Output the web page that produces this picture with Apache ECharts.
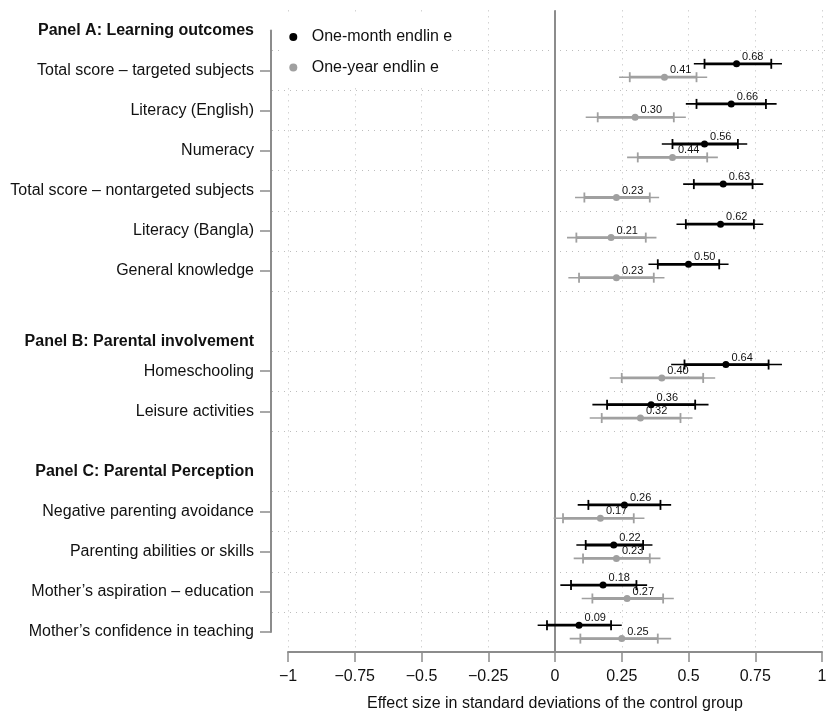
<!DOCTYPE html>
<html><head><meta charset="utf-8">
<script src="https://cdn.jsdelivr.net/npm/echarts@6/dist/echarts.min.js"></script>
<style>html,body{margin:0;padding:0;background:#fff}#chart{width:829px;height:712px}</style>
</head><body><div id="chart"></div>
<script>
// ---------------- data ----------------
const panelTitles = ['Panel A: Learning outcomes', 'Panel B: Parental involvement', 'Panel C: Parental Perception'];
const categories = [
  'Total score – targeted subjects', 'Literacy (English)', 'Numeracy',
  'Total score – nontargeted subjects', 'Literacy (Bangla)', 'General knowledge',
  'Homeschooling', 'Leisure activities',
  'Negative parenting avoidance', 'Parenting abilities or skills',
  'Mother’s aspiration – education', 'Mother’s confidence in teaching'
];
const categoryPanel = [0, 0, 0, 0, 0, 0, 1, 1, 2, 2, 2, 2];
const seriesNames = ['One-month endlin e', 'One-year endlin e'];

const monthEst  = [0.68, 0.66, 0.56, 0.63, 0.62, 0.50, 0.64, 0.36, 0.26, 0.22, 0.18, 0.09];
const monthLo95 = [0.52, 0.49, 0.40, 0.48, 0.455, 0.35, 0.435, 0.14, 0.085, 0.08, 0.02, -0.065];
const monthHi95 = [0.85, 0.83, 0.72, 0.78, 0.78, 0.65, 0.85, 0.575, 0.435, 0.365, 0.345, 0.25];
const monthLo90 = [0.56, 0.53, 0.44, 0.52, 0.49, 0.385, 0.485, 0.195, 0.125, 0.115, 0.06, -0.03];
const monthHi90 = [0.81, 0.79, 0.685, 0.74, 0.745, 0.615, 0.80, 0.525, 0.395, 0.33, 0.305, 0.21];

const yearEst  = [0.41, 0.30, 0.44, 0.23, 0.21, 0.23, 0.40, 0.32, 0.17, 0.23, 0.27, 0.25];
const yearLo95 = [0.24, 0.115, 0.27, 0.075, 0.045, 0.05, 0.205, 0.13, -0.005, 0.07, 0.10, 0.055];
const yearHi95 = [0.57, 0.49, 0.61, 0.39, 0.38, 0.41, 0.60, 0.515, 0.335, 0.395, 0.445, 0.435];
const yearLo90 = [0.28, 0.16, 0.31, 0.11, 0.08, 0.09, 0.25, 0.175, 0.03, 0.105, 0.14, 0.095];
const yearHi90 = [0.53, 0.445, 0.57, 0.355, 0.34, 0.37, 0.555, 0.47, 0.295, 0.355, 0.405, 0.385];

const xTicks = [-1, -0.75, -0.5, -0.25, 0, 0.25, 0.5, 0.75, 1];
const xTickLabels = ['−1', '−0.75', '−0.5', '−0.25', '0', '0.25', '0.5', '0.75', '1'];
const xTitle = 'Effect size in standard deviations of the control group';

// ---------------- layout ----------------
const panelFirstPos = [1, 8.5, 12];
const panelHeadPos = [0, 7.75, 11];
const rowOffset = 0.167;
const itemPos = [];
{
  const cnt = [0, 0, 0];
  categoryPanel.forEach((p, i) => { itemPos.push(panelFirstPos[p] + cnt[p]); cnt[p]++; });
}
const labelMap = {};
categories.forEach((c, i) => labelMap[itemPos[i].toFixed(2)] = c);
panelTitles.forEach((t, i) => labelMap[panelHeadPos[i].toFixed(2)] = '{b|' + t + '}');
const allLabelPos = itemPos.concat(panelHeadPos).sort((a, b) => a - b);
const gridSet = new Set();
itemPos.forEach(p => { gridSet.add(+(p - 0.5).toFixed(2)); gridSet.add(+(p + 0.5).toFixed(2)); });
const yMin = -0.5, yMax = 15.5;
const hLines = [...gridSet].filter(v => v < yMax).sort((a, b) => a - b);

const FONT = '"Liberation Sans", Arial, Helvetica, sans-serif';
const BLACK = '#000000', GRAY = '#a0a0a0', AXIS = '#8c8c8c', TXT = '#111111';
const PX_LEFT = 288, PX_RIGHT = 822, PLOT_LEFT = 272, PLOT_RIGHT = 829;
const unit = (PX_RIGHT - PX_LEFT) / 2;
const XMIN = -1 - (PX_LEFT - PLOT_LEFT) / unit;
const XMAX = 1 + (PLOT_RIGHT - PX_RIGHT) / unit;
const TOP = 10.35, ROWH = 40.1;

function ciSeries(name, color, lo95, hi95, lo90, hi90, off, extra) {
  return Object.assign({
    type: 'custom', name: name + ' CI', xAxisIndex: 0, yAxisIndex: 0, z: 3, silent: true,
    data: lo95.map((v, i) => [itemPos[i] + off, lo95[i], hi95[i], lo90[i], hi90[i]]),
    encode: { x: [1, 2, 3, 4], y: 0 },
    renderItem: function (params, api) {
      const y = api.value(0);
      const a = api.coord([api.value(1), y]), b = api.coord([api.value(2), y]);
      const c = api.coord([api.value(3), y]), d = api.coord([api.value(4), y]);
      const cap = 5;
      return { type: 'group', children: [
        { type: 'line', shape: { x1: a[0], y1: a[1], x2: b[0], y2: b[1] }, style: { stroke: color, lineWidth: 1.6 } },
        { type: 'line', shape: { x1: c[0], y1: c[1], x2: d[0], y2: d[1] }, style: { stroke: color, lineWidth: 2.8 } },
        { type: 'line', shape: { x1: c[0], y1: c[1] - cap, x2: c[0], y2: c[1] + cap }, style: { stroke: color, lineWidth: 1.8 } },
        { type: 'line', shape: { x1: d[0], y1: d[1] - cap, x2: d[0], y2: d[1] + cap }, style: { stroke: color, lineWidth: 1.8 } }
      ] };
    }
  }, extra || {});
}
function pointSeries(name, color, est, off) {
  return {
    type: 'scatter', name: name, xAxisIndex: 0, yAxisIndex: 0, z: 4, silent: true,
    symbol: 'circle', symbolSize: 7, itemStyle: { color: color, opacity: 1 },
    data: est.map((e, i) => [e, itemPos[i] + off]),
    label: { show: true, position: 'right', distance: 2, offset: [0, -7],
      formatter: p => p.value[0].toFixed(2), fontSize: 11, color: TXT, fontFamily: FONT }
  };
}

const chart = echarts.init(document.getElementById('chart'), null, { renderer: 'canvas' });
chart.setOption({
  animation: false,
  backgroundColor: '#ffffff',
  textStyle: { fontFamily: FONT },
  grid: [
    { left: PLOT_LEFT, top: TOP, width: PLOT_RIGHT - PLOT_LEFT, height: ROWH * (yMax - yMin), outerBoundsMode: 'none', containLabel: false },
    { left: PX_LEFT, top: TOP, width: PX_RIGHT - PX_LEFT, height: ROWH * (yMax - yMin), outerBoundsMode: 'none', containLabel: false },
    { left: 271, top: TOP + ROWH * (0 - yMin), width: 10, height: ROWH * 15, outerBoundsMode: 'none', containLabel: false }
  ],
  legend: {
    orient: 'vertical', left: 280, top: 12, z: 20, data: seriesNames, icon: 'circle',
    itemWidth: 8, itemHeight: 8, itemGap: 14.5, backgroundColor: '#ffffff',
    padding: [17, 0, 11, 9.3], selectedMode: false,
    textStyle: { fontSize: 16, color: TXT, fontFamily: FONT, padding: [0, 0, 0, 9.4] }
  },
  xAxis: [
    { gridIndex: 0, type: 'value', min: XMIN, max: XMAX, show: false },
    { gridIndex: 1, type: 'value', min: -1, max: 1, interval: 0.25,
      axisLine: { show: true, onZero: false, lineStyle: { color: AXIS, width: 2 } },
      axisTick: { show: true, length: 10, lineStyle: { color: AXIS, width: 1.5 } },
      axisLabel: { fontSize: 16, color: TXT, margin: 17, fontFamily: FONT,
        formatter: v => { const i = xTicks.findIndex(t => Math.abs(t - v) < 1e-6); return i >= 0 ? xTickLabels[i] : ''; } },
      splitLine: { show: true, lineStyle: { type: [1, 5], color: '#bdbdbd', width: 1 } },
      name: xTitle, nameLocation: 'middle', nameGap: 44,
      nameTextStyle: { fontSize: 16, color: TXT, fontFamily: FONT } },
    { gridIndex: 2, type: 'value', min: 0, max: 1, show: false }
  ],
  yAxis: [
    { gridIndex: 0, type: 'value', inverse: true, min: yMin, max: yMax, show: false },
    { gridIndex: 1, type: 'value', min: 0, max: 1, show: false },
    { gridIndex: 2, type: 'value', inverse: true, min: 0, max: 15, position: 'left',
      axisLine: { show: true, onZero: false, lineStyle: { color: AXIS, width: 2 } },
      axisTick: { show: true, length: 11, customValues: itemPos, lineStyle: { color: AXIS, width: 1.5 } },
      axisLabel: { show: true, customValues: allLabelPos, margin: 17, fontSize: 16, color: TXT, fontFamily: FONT,
        formatter: v => labelMap[(+v).toFixed(2)] || '',
        rich: { b: { fontWeight: 'bold', fontSize: 16, color: TXT, fontFamily: FONT } } },
      splitLine: { show: false } }
  ],
  series: [
    ciSeries(seriesNames[0], BLACK, monthLo95, monthHi95, monthLo90, monthHi90, -rowOffset, {
      markLine: {
        silent: true, symbol: ['none', 'none'], z: 1, label: { show: false }, animation: false,
        lineStyle: { type: [1, 5], color: '#bdbdbd', width: 1 },
        data: hLines.map(v => ({ yAxis: v })).concat([{ xAxis: 0, lineStyle: { type: 'solid', color: AXIS, width: 2 } }])
      }
    }),
    ciSeries(seriesNames[1], GRAY, yearLo95, yearHi95, yearLo90, yearHi90, rowOffset),
    pointSeries(seriesNames[0], BLACK, monthEst, -rowOffset),
    pointSeries(seriesNames[1], GRAY, yearEst, rowOffset)
  ]
});
</script></body></html>
